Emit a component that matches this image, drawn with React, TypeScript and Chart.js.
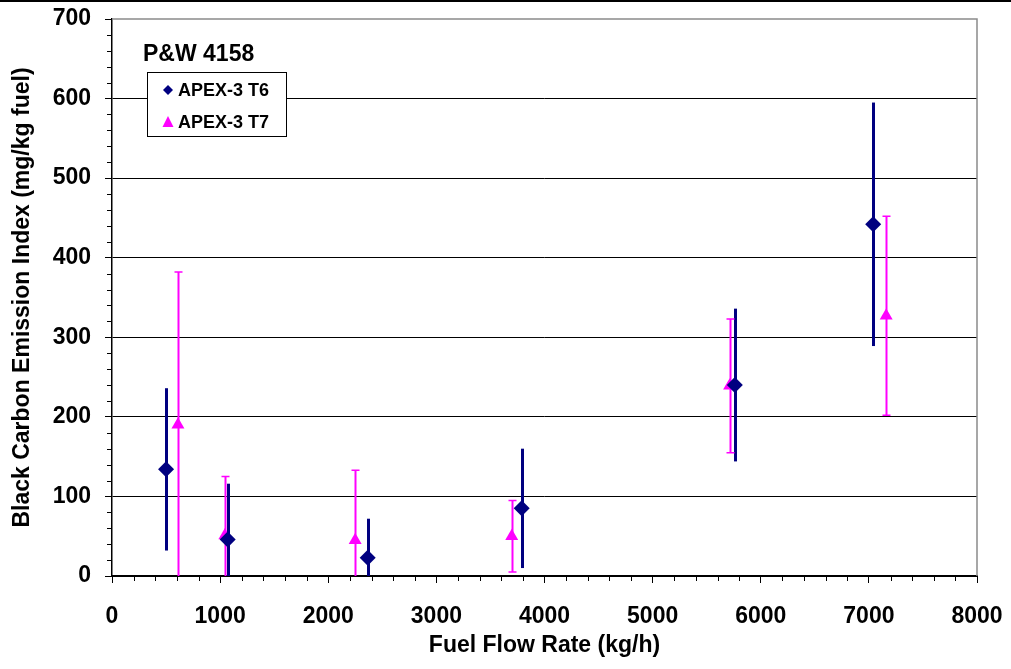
import React, { useEffect, useRef } from "react";
import { Chart, registerables } from "chart.js";

Chart.register(...registerables);

// ---- Data ----
const t6Label = "APEX-3 T6";
const t6X = [500, 1070, 2365, 3789, 5760, 7040];
const t6Y = [134, 46, 23, 85, 240, 442];
const t6Err = [102, 70, 49, 75, 96, 153];

const t7Label = "APEX-3 T7";
const t7X = [610, 1044, 2249, 3697, 5712, 7160];
const t7Y = [190, 51, 45, 50, 239, 327];
const t7Err = [192, 74, 88, 45, 84, 125];

const chartTitle = "P&W 4158";
const xTitle = "Fuel Flow Rate (kg/h)";
const yTitle = "Black Carbon Emission Index (mg/kg fuel)";
const xRange = [0, 8000];
const yRange = [0, 700];
const xStep = 1000;
const yStep = 100;
const xMinorStep = 200;
const yMinorStep = 20;

const FONT = "'Liberation Sans', Arial, Helvetica, sans-serif";
const NAVY = "#000080";
const MAGENTA = "#FF00FF";

const decorPlugin = {
  id: "decor",
  beforeDatasetsDraw(chart: any) {
    const { ctx, chartArea } = chart;
    const xs = chart.scales.x;
    const ys = chart.scales.y;
    ctx.save();
    ctx.beginPath();
    ctx.rect(chartArea.left, chartArea.top - 1, chartArea.right - chartArea.left, chartArea.bottom - chartArea.top + 1);
    ctx.clip();
    chart.data.datasets.forEach((ds: any) => {
      const errs: number[] = ds.errors || [];
      ctx.strokeStyle = ds.errColor;
      ctx.lineWidth = ds.errWidth;
      ds.data.forEach((p: any, i: number) => {
        const e = errs[i];
        if (e == null) return;
        const px = Math.round(xs.getPixelForValue(p.x)) + 0.5;
        const top = ys.getPixelForValue(p.y + e);
        const bot = ys.getPixelForValue(p.y - e);
        ctx.beginPath();
        ctx.moveTo(px, top);
        ctx.lineTo(px, bot);
        ctx.stroke();
        if (ds.errCap) {
          ctx.lineWidth = 1.5;
          ctx.beginPath();
          ctx.moveTo(px - ds.errCap, top);
          ctx.lineTo(px + ds.errCap, top);
          ctx.moveTo(px - ds.errCap, bot);
          ctx.lineTo(px + ds.errCap, bot);
          ctx.stroke();
          ctx.lineWidth = ds.errWidth;
        }
      });
    });
    ctx.restore();
  },
  afterDraw(chart: any) {
    const { ctx, chartArea, width } = chart;
    const xs = chart.scales.x;
    const ys = chart.scales.y;
    ctx.save();
    // top black rule of the page
    ctx.fillStyle = "#000";
    ctx.fillRect(0, 0, width, 2);

    // plot-area border (top/right) in gray
    ctx.strokeStyle = "#8a8a8a";
    ctx.lineWidth = 1.5;
    ctx.beginPath();
    ctx.moveTo(chartArea.left, chartArea.top);
    ctx.lineTo(chartArea.right, chartArea.top);
    ctx.lineTo(chartArea.right, chartArea.bottom);
    ctx.stroke();

    // minor ticks
    ctx.strokeStyle = "#000";
    ctx.lineWidth = 1;
    ctx.beginPath();
    for (let v = yRange[0] + yMinorStep; v < yRange[1]; v += yMinorStep) {
      if (v % yStep === 0) continue;
      const py = Math.round(ys.getPixelForValue(v)) + 0.5;
      ctx.moveTo(chartArea.left - 5, py);
      ctx.lineTo(chartArea.left, py);
    }
    for (let v = xRange[0] + xMinorStep; v < xRange[1]; v += xMinorStep) {
      if (v % xStep === 0) continue;
      const px = Math.round(xs.getPixelForValue(v)) + 0.5;
      ctx.moveTo(px, chartArea.bottom);
      ctx.lineTo(px, chartArea.bottom + 5);
    }
    ctx.stroke();

    // title + legend
    const lx = chartArea.left + 35;
    const ly = chartArea.top + 53;
    ctx.fillStyle = "#000";
    ctx.font = `bold 23px ${FONT}`;
    ctx.textBaseline = "middle";
    ctx.textAlign = "left";
    ctx.fillText(chartTitle, chartArea.left + 31, chartArea.top + 36);

    ctx.fillStyle = "#fff";
    ctx.fillRect(lx, ly, 139, 64);
    ctx.strokeStyle = "#000";
    ctx.lineWidth = 1;
    ctx.strokeRect(lx + 0.5, ly + 0.5, 139, 64);

    // diamond
    const d1x = lx + 21, d1y = ly + 18;
    ctx.fillStyle = NAVY;
    ctx.beginPath();
    ctx.moveTo(d1x - 5, d1y);
    ctx.lineTo(d1x, d1y - 5);
    ctx.lineTo(d1x + 5, d1y);
    ctx.lineTo(d1x, d1y + 5);
    ctx.closePath();
    ctx.fill();
    // triangle
    const d2x = lx + 21, d2y = ly + 50;
    ctx.fillStyle = MAGENTA;
    ctx.beginPath();
    ctx.moveTo(d2x, d2y - 6);
    ctx.lineTo(d2x + 5.5, d2y + 5);
    ctx.lineTo(d2x - 5.5, d2y + 5);
    ctx.closePath();
    ctx.fill();

    ctx.fillStyle = "#000";
    ctx.font = `bold 18px ${FONT}`;
    ctx.fillText(t6Label, lx + 31, d1y + 1);
    ctx.fillText(t7Label, lx + 31, d2y + 1);
    ctx.restore();
  },
};

export default function App() {
  const ref = useRef<HTMLCanvasElement | null>(null);
  useEffect(() => {
    if (!ref.current) return;
    const chart = new Chart(ref.current, {
      type: "scatter",
      data: {
        datasets: [
          {
            label: t6Label,
            data: t6X.map((x, i) => ({ x, y: t6Y[i] })),
            pointStyle: "rectRot",
            pointRadius: 8,
            pointHoverRadius: 8,
            backgroundColor: NAVY,
            borderColor: NAVY,
            borderWidth: 0,
            errors: t6Err,
            errColor: NAVY,
            errWidth: 3,
            errCap: 0,
          } as any,
          {
            label: t7Label,
            data: t7X.map((x, i) => ({ x, y: t7Y[i] })),
            pointStyle: "triangle",
            pointRadius: 7.5,
            pointHoverRadius: 7.5,
            backgroundColor: MAGENTA,
            borderColor: MAGENTA,
            borderWidth: 0,
            errors: t7Err,
            errColor: MAGENTA,
            errWidth: 2,
            errCap: 4,
          } as any,
        ],
      },
      options: {
        animation: false,
        responsive: false,
        devicePixelRatio: 1,
        layout: { padding: { left: 0, top: 19, right: 34, bottom: 0 } },
        plugins: { legend: { display: false }, tooltip: { enabled: false } },
        scales: {
          x: {
            type: "linear",
            min: xRange[0],
            max: xRange[1],
            afterFit: (s: any) => {
              s.height = 93;
              s.paddingLeft = 0;
              s.paddingRight = 0;
              s.paddingTop = 0;
              s.paddingBottom = 0;
            },
            ticks: {
              stepSize: xStep,
              autoSkip: false,
              maxRotation: 0,
              padding: 20,
              color: "#000",
              font: { family: FONT, size: 23, weight: "bold" },
              callback: (v: any) => String(v),
            },
            grid: {
              drawOnChartArea: false,
              drawTicks: true,
              tickLength: 7,
              tickColor: "#000",
              color: "#000",
            },
            border: { color: "#000", width: 2 },
            title: {
              display: true,
              text: xTitle,
              color: "#000",
              font: { family: FONT, size: 23, weight: "bold" },
              padding: { top: 0, bottom: 10 },
            },
          },
          y: {
            type: "linear",
            min: yRange[0],
            max: yRange[1],
            afterFit: (s: any) => {
              s.width = 112;
              s.paddingLeft = 0;
              s.paddingRight = 0;
              s.paddingTop = 0;
              s.paddingBottom = 0;
            },
            ticks: {
              stepSize: yStep,
              padding: 14,
              color: "#000",
              font: { family: FONT, size: 23, weight: "bold" },
              callback: (v: any) => String(v),
            },
            grid: {
              drawTicks: true,
              tickLength: 7,
              tickColor: "#000",
              color: (c: any) => (c.tick && c.tick.value === yRange[1] ? "rgba(0,0,0,0)" : "#000"),
              lineWidth: 1,
            },
            border: { color: "#000", width: 1.5 },
            title: {
              display: true,
              text: yTitle,
              color: "#000",
              font: { family: FONT, size: 23, weight: "bold" },
              padding: { top: 9, bottom: 0 },
            },
          },
        },
      } as any,
      plugins: [decorPlugin],
    });
    return () => chart.destroy();
  }, []);
  return (
    <div style={{ position: "absolute", left: 0, top: 0, width: 1011, height: 669, background: "#fff" }}>
      <canvas ref={ref} width={1011} height={669} style={{ display: "block" }} />
    </div>
  );
}
